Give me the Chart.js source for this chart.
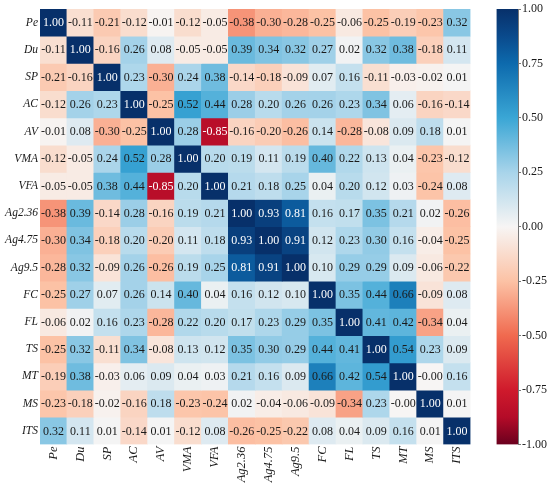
<!DOCTYPE html>
<html>
<head>
<meta charset="utf-8">
<script src="https://cdn.jsdelivr.net/npm/chart.js@4.4.1/dist/chart.umd.min.js"></script>
<style>
  html, body { margin: 0; padding: 0; background: #fff; }
  #wrap { position: relative; width: 550px; height: 485px; }
  #heat { position: absolute; left: 0; top: 0; }
  #bar { position: absolute; left: 470px; top: 0; }
</style>
</head>
<body>
<div id="wrap">
  <canvas id="heat" width="550" height="485"></canvas>
  <canvas id="bar" width="80" height="485"></canvas>
</div>
<script>
// variable names, same order on both axes
const vars = ['Pe', 'Du', 'SP', 'AC', 'AV', 'VMA', 'VFA', 'Ag2.36', 'Ag4.75', 'Ag9.5', 'FC', 'FL', 'TS', 'MT', 'MS', 'ITS'];

// correlation rows (top to bottom)
const corrPe    = [1.00, -0.11, -0.21, -0.12, -0.01, -0.12, -0.05, -0.38, -0.30, -0.28, -0.25, -0.06, -0.25, -0.19, -0.23, 0.32];
const corrDu    = [-0.11, 1.00, -0.16, 0.26, 0.08, -0.05, -0.05, 0.39, 0.34, 0.32, 0.27, 0.02, 0.32, 0.38, -0.18, 0.11];
const corrSP    = [-0.21, -0.16, 1.00, 0.23, -0.30, 0.24, 0.38, -0.14, -0.18, -0.09, 0.07, 0.16, -0.11, -0.03, -0.02, 0.01];
const corrAC    = [-0.12, 0.26, 0.23, 1.00, -0.25, 0.52, 0.44, 0.28, 0.20, 0.26, 0.26, 0.23, 0.34, 0.06, -0.16, -0.14];
const corrAV    = [-0.01, 0.08, -0.30, -0.25, 1.00, 0.28, -0.85, -0.16, -0.20, -0.26, 0.14, -0.28, -0.08, 0.09, 0.18, 0.01];
const corrVMA   = [-0.12, -0.05, 0.24, 0.52, 0.28, 1.00, 0.20, 0.19, 0.11, 0.19, 0.40, 0.22, 0.13, 0.04, -0.23, -0.12];
const corrVFA   = [-0.05, -0.05, 0.38, 0.44, -0.85, 0.20, 1.00, 0.21, 0.18, 0.25, 0.04, 0.20, 0.12, 0.03, -0.24, 0.08];
const corrAg236 = [-0.38, 0.39, -0.14, 0.28, -0.16, 0.19, 0.21, 1.00, 0.93, 0.81, 0.16, 0.17, 0.35, 0.21, 0.02, -0.26];
const corrAg475 = [-0.30, 0.34, -0.18, 0.20, -0.20, 0.11, 0.18, 0.93, 1.00, 0.91, 0.12, 0.23, 0.30, 0.16, -0.04, -0.25];
const corrAg95  = [-0.28, 0.32, -0.09, 0.26, -0.26, 0.19, 0.25, 0.81, 0.91, 1.00, 0.10, 0.29, 0.29, 0.09, -0.06, -0.22];
const corrFC    = [-0.25, 0.27, 0.07, 0.26, 0.14, 0.40, 0.04, 0.16, 0.12, 0.10, 1.00, 0.35, 0.44, 0.66, -0.09, 0.08];
const corrFL    = [-0.06, 0.02, 0.16, 0.23, -0.28, 0.22, 0.20, 0.17, 0.23, 0.29, 0.35, 1.00, 0.41, 0.42, -0.34, 0.04];
const corrTS    = [-0.25, 0.32, -0.11, 0.34, -0.08, 0.13, 0.12, 0.35, 0.30, 0.29, 0.44, 0.41, 1.00, 0.54, 0.23, 0.09];
const corrMT    = [-0.19, 0.38, -0.03, 0.06, 0.09, 0.04, 0.03, 0.21, 0.16, 0.09, 0.66, 0.42, 0.54, 1.00, -0.00, 0.16];
const corrMS    = [-0.23, -0.18, -0.02, -0.16, 0.18, -0.23, -0.24, 0.02, -0.04, -0.06, -0.09, -0.34, 0.23, -0.00, 1.00, 0.01];
const corrITS   = [0.32, 0.11, 0.01, -0.14, 0.01, -0.12, 0.08, -0.26, -0.25, -0.22, 0.08, 0.04, 0.09, 0.16, 0.01, 1.00];

const matrix = [corrPe, corrDu, corrSP, corrAC, corrAV, corrVMA, corrVFA, corrAg236,
                corrAg475, corrAg95, corrFC, corrFL, corrTS, corrMT, corrMS, corrITS];

// colour bar ticks
const cbTicks = [-1, -0.75, -0.5, -0.25, 0, 0.25, 0.5, 0.75, 1];

// red-white-blue colour map stops
const cmapStops = [
  [-1.0, '#6a001e'],
  [-0.875, '#b40b28'],
  [-0.75, '#cf1a2c'],
  [-0.5, '#f06a4f'],
  [-0.25, '#fcc2a5'],
  [0.0, '#f7f5f4'],
  [0.25, '#a8d4ea'],
  [0.5, '#3aa6d5'],
  [0.75, '#0d6aad'],
  [0.875, '#0a4a8c'],
  [1.0, '#07306a']
];

function hexRgb(h) {
  return [parseInt(h.slice(1, 3), 16), parseInt(h.slice(3, 5), 16), parseInt(h.slice(5, 7), 16)];
}

function cmap(v) {
  for (let k = 0; k < cmapStops.length - 1; k++) {
    const [v0, c0] = cmapStops[k];
    const [v1, c1] = cmapStops[k + 1];
    if (v >= v0 && v <= v1) {
      const t = (v - v0) / (v1 - v0);
      const a = hexRgb(c0), b = hexRgb(c1);
      const c = a.map((x, n) => Math.round(x + (b[n] - x) * t));
      return `rgb(${c[0]}, ${c[1]}, ${c[2]})`;
    }
  }
  return cmapStops[cmapStops.length - 1][1];
}

function fmt(v) {
  return (Object.is(v, -0) ? '-' : '') + v.toFixed(2);
}

const serif = "'Liberation Serif', 'Times New Roman', serif";

function draw() {
  // one dataset per row, each cell a floating bar one unit tall
  const datasets = matrix.map((row, i) => ({
    label: vars[i],
    data: row.map(() => [vars.length - 1 - i, vars.length - i]),
    backgroundColor: row.map(v => cmap(v)),
    borderWidth: 0,
    grouped: false,
    barPercentage: 1,
    categoryPercentage: 1
  }));

  const cellText = {
    id: 'cellText',
    afterDatasetsDraw(chart) {
      const ctx = chart.ctx;
      ctx.save();
      ctx.font = '12px ' + serif;
      ctx.textAlign = 'center';
      ctx.textBaseline = 'middle';
      chart.data.datasets.forEach((ds, i) => {
        chart.getDatasetMeta(i).data.forEach((bar, j) => {
          const v = matrix[i][j];
          ctx.fillStyle = Math.abs(v) > 0.7 ? '#ffffff' : '#1a1a1a';
          ctx.fillText(fmt(v), bar.x, (bar.y + bar.base) / 2 + 0.5);
        });
      });
      ctx.restore();
    }
  };

  new Chart(document.getElementById('heat'), {
    type: 'bar',
    data: { labels: vars, datasets: datasets },
    options: {
      responsive: false,
      animation: false,
      layout: { padding: { top: 9, right: 79.5, left: 0, bottom: 0 } },
      plugins: { legend: { display: false }, tooltip: { enabled: false } },
      scales: {
        x: {
          type: 'category',
          grid: { display: false, drawTicks: false, tickLength: 0 },
          border: { display: false },
          ticks: {
            font: { family: serif, size: 12.5, style: 'italic' },
            color: '#1a1a1a', minRotation: 90, maxRotation: 90, padding: 2, autoSkip: false
          },
          afterFit: s => { s.height = 40.5; }
        },
        y: { type: 'linear', min: 0, max: vars.length, display: false },
        yl: {
          type: 'category',
          labels: vars,
          position: 'left',
          offset: true,
          grid: { display: false, drawTicks: false, tickLength: 0 },
          border: { display: false },
          ticks: {
            font: { family: serif, size: 11.5, style: 'italic' },
            color: '#1a1a1a', padding: 2, autoSkip: false
          },
          afterFit: s => { s.width = 40; }
        }
      }
    },
    plugins: [cellText]
  });

  new Chart(document.getElementById('bar'), {
    type: 'bar',
    data: {
      labels: [''],
      datasets: [{
        data: [[cbTicks[0], cbTicks[cbTicks.length - 1]]],
        backgroundColor(c) {
          const area = c.chart.chartArea;
          if (!area) return null;
          const g = c.chart.ctx.createLinearGradient(0, area.bottom, 0, area.top);
          cmapStops.forEach(([v, col]) => g.addColorStop((v + 1) / 2, col));
          return g;
        },
        borderWidth: 0,
        barPercentage: 1,
        categoryPercentage: 1
      }]
    },
    options: {
      responsive: false,
      animation: false,
      layout: { padding: { left: 26.5, top: 9, bottom: 40.5, right: 0 } },
      plugins: { legend: { display: false }, tooltip: { enabled: false } },
      scales: {
        x: { display: false },
        y: {
          position: 'right',
          min: -1,
          max: 1,
          afterBuildTicks: s => { s.ticks = cbTicks.map(v => ({ value: v })); },
          ticks: { font: { family: serif, size: 12 }, color: '#1a1a1a', padding: 1, callback: v => Number(v).toFixed(2) },
          grid: { drawOnChartArea: false, tickLength: 3, color: '#777' },
          border: { color: '#777' },
          afterFit: s => { s.width = 32; }
        }
      }
    }
  });
}

Promise.all([
  document.fonts.load("12px 'Liberation Serif'"),
  document.fonts.load("italic 12px 'Liberation Serif'")
]).then(draw, draw);
</script>
</body>
</html>
